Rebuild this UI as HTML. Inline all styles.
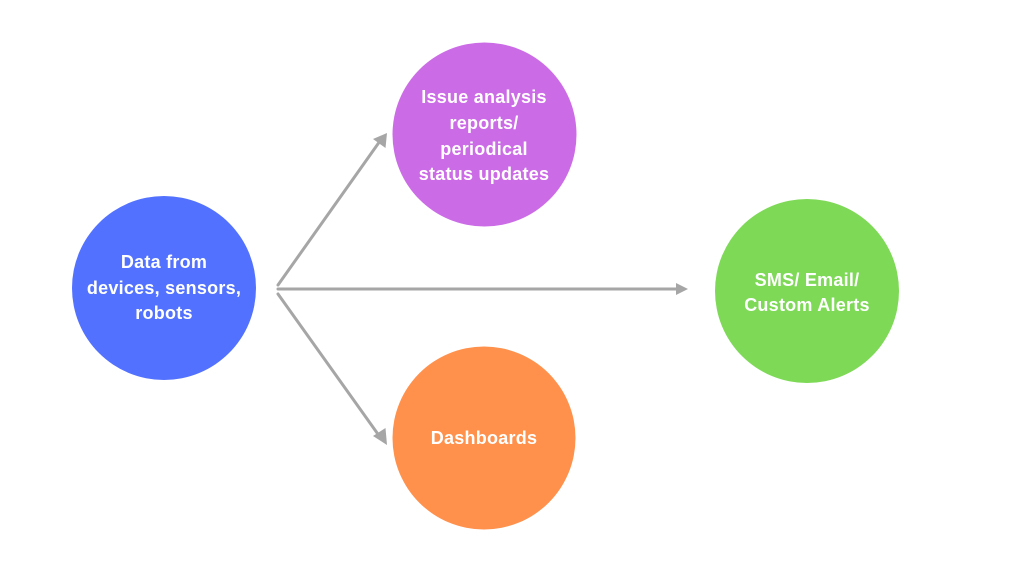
<!DOCTYPE html>
<html><head><meta charset="utf-8"><style>
html,body{margin:0;padding:0;background:#fff;}
svg{display:block;}
text{font-family:"Liberation Sans",sans-serif;font-weight:bold;font-size:18px;letter-spacing:0.25px;fill:#fff;text-anchor:middle;}
</style></head><body>
<svg width="1024" height="576" viewBox="0 0 1024 576" xmlns="http://www.w3.org/2000/svg">
<rect width="1024" height="576" fill="#fff"/>
<circle cx="164" cy="288" r="92" fill="#5271ff"/>
<circle cx="484.5" cy="134.5" r="92" fill="#cb6ce6"/>
<circle cx="807" cy="291" r="92" fill="#7ed957"/>
<circle cx="484" cy="438" r="91.5" fill="#ff914d"/>
<g stroke="#a6a6a6" stroke-width="3" fill="none" stroke-linecap="round">
<line x1="278" y1="285" x2="380" y2="141"/>
<line x1="278" y1="289" x2="678" y2="289"/>
<line x1="278" y1="294" x2="380" y2="437"/>
</g>
<g fill="#a6a6a6">
<polygon points="387,133 385.5,148 373,139"/>
<polygon points="688,289 676,283 676,295"/>
<polygon points="387,445 373,436 385.5,428"/>
</g>
<text x="164" y="268">Data from</text>
<text x="164" y="294">devices, sensors,</text>
<text x="164" y="319">robots</text>
<text x="484" y="103">Issue analysis</text>
<text x="484" y="129">reports/</text>
<text x="484" y="155">periodical</text>
<text x="484" y="180">status updates</text>
<text x="807" y="286">SMS/ Email/</text>
<text x="807" y="311">Custom Alerts</text>
<text x="484" y="444">Dashboards</text>
</svg>
</body></html>
